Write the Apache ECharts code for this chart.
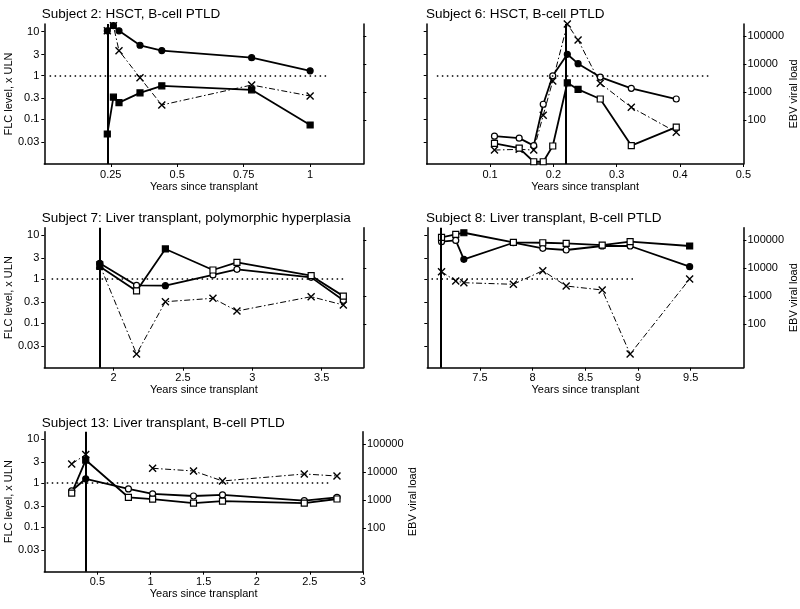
<!DOCTYPE html>
<html><head><meta charset="utf-8">
<script src="https://cdn.jsdelivr.net/npm/echarts@6/dist/echarts.min.js"></script>
<style>html,body{margin:0;padding:0;background:#fff}#c{width:800px;height:609px}</style>
</head><body><div id="c"></div>
<script>
// ---------- data ----------
// Subject 2
const s2_years  = [0.237, 0.26, 0.281, 0.36, 0.442, 0.78, 1.0];
const s2_kappa  = [10.5, 13.7, 10.5, 4.9, 3.7, 2.55, 1.28];
const s2_lambda = [0.046, 0.32, 0.24, 0.40, 0.58, 0.47, 0.074];
const s2_ebv    = [155000, 235000, 30000, 3260, 345, 1790, 725];
const s2_filled = [1, 1, 1, 1, 1, 1, 1];
const s2_dx = 0.237;
const s2_ref = [0.02, 1.07];
const s2_xticks = [0.25, 0.5, 0.75, 1];
// Subject 6
const s6_years  = [0.107, 0.146, 0.169, 0.184, 0.199, 0.222, 0.239, 0.274, 0.323, 0.394];
const s6_kappa  = [0.041, 0.037, 0.025, 0.22, 0.98, 3.05, 1.86, 0.92, 0.51, 0.29];
const s6_lambda = [0.028, 0.022, 0.0107, 0.0107, 0.0245, 0.68, 0.48, 0.29, 0.025, 0.066];
const s6_ebv    = [8.5, 9.0, 8.5, 150, 2490, 268000, 72400, 2060, 286, 37];
const s6_filled = [0, 0, 0, 0, 0, 1, 1, 0, 0, 0];
const s6_dx = 0.222;
const s6_ref = [0.016, 0.445];
const s6_xticks = [0.1, 0.2, 0.3, 0.4, 0.5];
// Subject 7
const s7_years  = [1.9, 2.165, 2.373, 2.716, 2.889, 3.424, 3.656];
const s7_kappa  = [2.3, 0.72, 0.71, 1.25, 1.68, 1.10, 0.33];
const s7_lambda = [1.95, 0.54, 4.9, 1.62, 2.43, 1.2, 0.41];
const s7_ebv    = [12600, 8.3, 615, 813, 286, 927, 469];
const s7_filled = [1, 0, 1, 0, 0, 0, 0];
const s7_dx = 1.9;
const s7_ref = [1.553, 3.676];
const s7_xticks = [2, 2.5, 3, 3.5];
// Subject 8
const s8_years  = [7.135, 7.27, 7.347, 7.817, 8.096, 8.318, 8.66, 8.925, 9.49];
const s8_kappa  = [7.2, 7.7, 2.84, 6.8, 5.07, 4.64, 5.73, 5.73, 1.93];
const s8_lambda = [9.0, 10.6, 11.5, 6.9, 6.8, 6.6, 6.0, 7.2, 5.73];
const s8_ebv    = [7250, 3370, 2930, 2570, 7870, 2230, 1610, 8.3, 3970];
const s8_filled = [0, 0, 1, 0, 0, 0, 0, 0, 1];
const s8_dx = 7.135;
const s8_ref = [7.04, 8.98];
const s8_xticks = [7.5, 8, 8.5, 9, 9.5];
// Subject 13
const s13_years  = [0.258, 0.39, 0.792, 1.02, 1.405, 1.678, 2.448, 2.756];
const s13_kappa  = [0.67, 1.26, 0.74, 0.57, 0.51, 0.54, 0.40, 0.475];
const s13_lambda = [0.59, 3.38, 0.476, 0.43, 0.35, 0.39, 0.35, 0.435];
const s13_ebv    = [18950, 41400, null, 13300, 10700, 4690, 8340, 7060];
const s13_filled = [0, 1, 0, 0, 0, 0, 0, 0];
const s13_dx = 0.39;
const s13_ref = [0.023, 2.676];
const s13_xticks = [0.5, 1, 1.5, 2, 2.5, 3];

// axis tick labels
const flcTicks = [0.03, 0.1, 0.3, 1, 3, 10];
const ebvTicks = [100, 1000, 10000, 100000];
const flcRange = [0.0095, 15];
const ebvRange = [2.7, 270000];

// ---------- layout ----------
const FONT = '"Liberation Sans", Arial, Helvetica, sans-serif';
const panels = [
  {title:'Subject 2: HSCT, B-cell PTLD', years:s2_years, kappa:s2_kappa, lambda:s2_lambda, ebv:s2_ebv, filled:s2_filled, dx:s2_dx, ref:s2_ref, xticks:s2_xticks, xMin:0, xMax:1.2,
   grid:{left:44.3, top:24, width:319, height:140}, tpos:[41.7, 7], leftLab:true, rightLab:false},
  {title:'Subject 6: HSCT, B-cell PTLD', years:s6_years, kappa:s6_kappa, lambda:s6_lambda, ebv:s6_ebv, filled:s6_filled, dx:s6_dx, ref:s6_ref, xticks:s6_xticks, xMin:0, xMax:0.5,
   grid:{left:426.7, top:24, width:320, height:140}, tpos:[426, 7], leftLab:false, rightLab:true},
  {title:'Subject 7: Liver transplant, polymorphic hyperplasia', years:s7_years, kappa:s7_kappa, lambda:s7_lambda, ebv:s7_ebv, filled:s7_filled, dx:s7_dx, ref:s7_ref, xticks:s7_xticks, xMin:1.5, xMax:3.8,
   grid:{left:44.3, top:227.7, width:319, height:140}, tpos:[41.7, 210.5], leftLab:true, rightLab:false},
  {title:'Subject 8: Liver transplant, B-cell PTLD', years:s8_years, kappa:s8_kappa, lambda:s8_lambda, ebv:s8_ebv, filled:s8_filled, dx:s8_dx, ref:s8_ref, xticks:s8_xticks, xMin:7, xMax:10,
   grid:{left:427.3, top:227.7, width:319.4, height:140}, tpos:[426, 210.5], leftLab:false, rightLab:true},
  {title:'Subject 13: Liver transplant, B-cell PTLD', years:s13_years, kappa:s13_kappa, lambda:s13_lambda, ebv:s13_ebv, filled:s13_filled, dx:s13_dx, ref:s13_ref, xticks:s13_xticks, xMin:0, xMax:3,
   grid:{left:44.3, top:431.7, width:318.6, height:140}, tpos:[41.7, 415.5], leftLab:true, rightLab:true}
];

const fmt = v => String(+(+v).toPrecision(4));
const txt = {fontFamily:FONT, fontSize:11, color:'#000'};
const axLine = {show:true, onZero:false, lineStyle:{color:'#000', width:1.5}};

const option = {animation:false, backgroundColor:'#fff', title:[], grid:[], xAxis:[], yAxis:[], series:[]};

panels.forEach((p, i) => {
  option.grid.push(Object.assign({containLabel:false}, p.grid));
  option.title.push({text:p.title, left:p.tpos[0], top:p.tpos[1], padding:0,
    textStyle:{fontFamily:FONT, fontSize:13.5, fontWeight:'normal', color:'#000', lineHeight:15}});
  option.xAxis.push({type:'value', gridIndex:i, min:p.xMin, max:p.xMax,
    name:'Years since transplant', nameLocation:'middle', nameGap:17, nameTextStyle:txt,
    axisLine:axLine, splitLine:{show:false},
    axisTick:{show:true, customValues:p.xticks, length:3, lineStyle:{color:'#000', width:1}},
    axisLabel:Object.assign({customValues:p.xticks, margin:5, formatter:fmt}, txt)});
  option.yAxis.push({type:'log', logBase:10, gridIndex:i, position:'left', min:flcRange[0], max:flcRange[1],
    name:p.leftLab ? 'FLC level, x ULN' : '', nameLocation:'middle', nameGap:26, nameTextStyle:txt,
    axisLine:axLine, splitLine:{show:false},
    axisTick:{show:true, customValues:flcTicks, length:3, lineStyle:{color:'#000', width:1}},
    axisLabel:Object.assign({show:p.leftLab, customValues:flcTicks, margin:5, formatter:fmt}, txt)});
  option.yAxis.push({type:'log', logBase:10, gridIndex:i, position:'right', min:ebvRange[0], max:ebvRange[1],
    name:p.rightLab ? 'EBV viral load' : '', nameLocation:'middle', nameGap:36, nameTextStyle:txt,
    axisLine:axLine, splitLine:{show:false},
    axisTick:{show:true, customValues:ebvTicks, length:3, lineStyle:{color:'#000', width:1}},
    axisLabel:Object.assign({show:p.rightLab, customValues:ebvTicks, margin:4, padding:[6,0,0,0], formatter:fmt}, txt)});

  const mk = f => ({color: f ? '#000' : '#fff', borderColor:'#000', borderWidth:1.2});
  option.series.push({type:'line', name:'EBV', xAxisIndex:i, yAxisIndex:2*i+1,
    symbol:'path://M0,0L10,10M10,0L0,10', symbolSize:7,
    data:p.years.map((t,j) => p.ebv[j] == null ? [t,'-'] : [t, p.ebv[j]]),
    lineStyle:{color:'#000', width:1, type:[6,2.5,1.5,2.5]},
    itemStyle:{color:'none', borderColor:'#000', borderWidth:1.4}, z:2, silent:true});
  option.series.push({type:'line', name:'Kappa', xAxisIndex:i, yAxisIndex:2*i,
    symbol:'circle', symbolSize:6,
    data:p.years.map((t,j) => ({value:[t, p.kappa[j]], itemStyle:mk(p.filled[j])})),
    lineStyle:{color:'#000', width:1.8}, itemStyle:{color:'#000', borderColor:'#000'}, z:3, silent:true,
    markLine:{silent:true, symbol:['none','none'], label:{show:false}, animation:false,
      lineStyle:{color:'#000', type:[1.5,3.5], width:1.5},
      data:[[{coord:[p.ref[0],1]}, {coord:[p.ref[1],1]}],
            {xAxis:p.dx, lineStyle:{color:'#000', type:'solid', width:2}}]}});
  option.series.push({type:'line', name:'Lambda', xAxisIndex:i, yAxisIndex:2*i,
    symbol:'rect', symbolSize:6,
    data:p.years.map((t,j) => ({value:[t, p.lambda[j]], itemStyle:mk(p.filled[j])})),
    lineStyle:{color:'#000', width:1.8}, itemStyle:{color:'#000', borderColor:'#000'}, z:3, silent:true});
});

const chart = echarts.init(document.getElementById('c'), null, {renderer:'canvas'});
chart.setOption(option);
</script></body></html>
